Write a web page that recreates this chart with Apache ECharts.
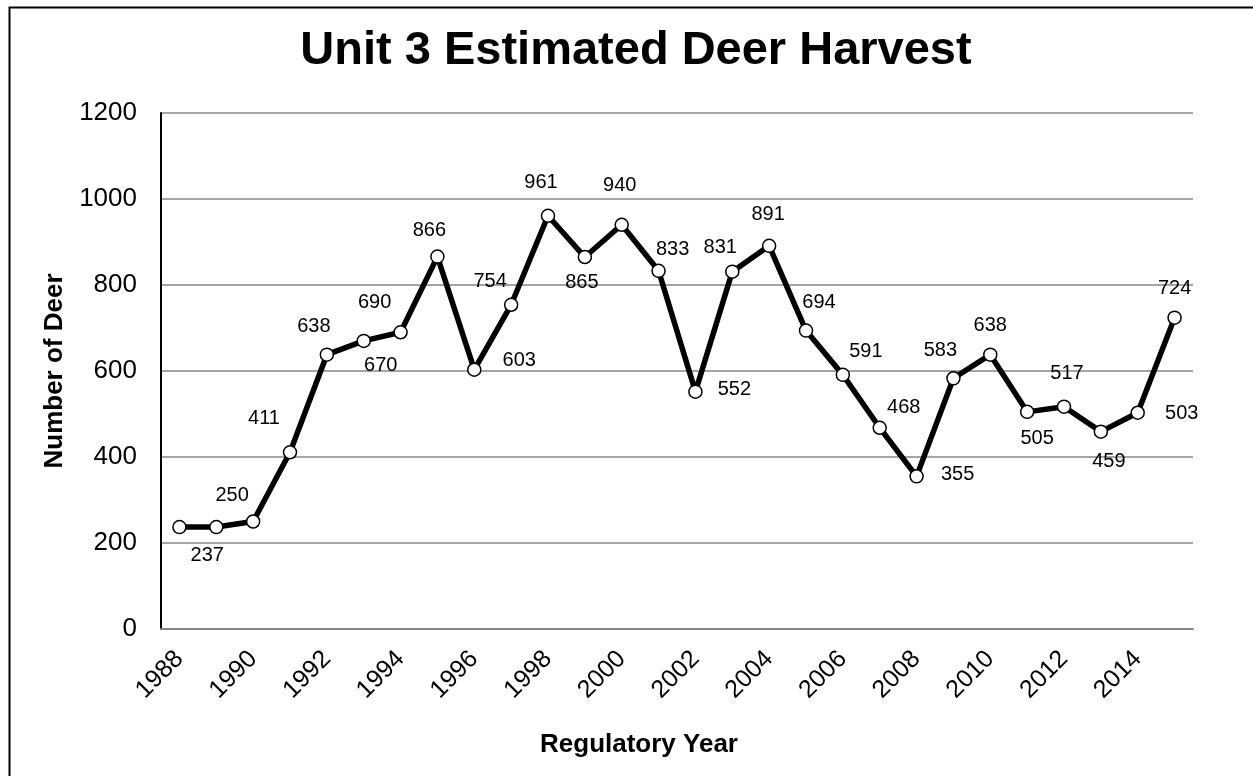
<!DOCTYPE html>
<html>
<head>
<meta charset="utf-8">
<script src="https://cdn.jsdelivr.net/npm/echarts@6/dist/echarts.min.js"></script>
<style>
html,body{margin:0;padding:0;background:#fff;}
#chart{width:1253px;height:776px;}
</style>
</head>
<body>
<div id="chart"></div>
<script>
var years = ['1988','1989','1990','1991','1992','1993','1994','1995','1996','1997','1998','1999','2000','2001','2002','2003','2004','2005','2006','2007','2008','2009','2010','2011','2012','2013','2014','2015'];
var harvest = [237,237,250,411,638,670,690,866,603,754,961,865,940,833,552,831,891,694,591,468,355,583,638,505,517,459,503,724];
var yTicks = [0,200,400,600,800,1000,1200];
// label placement styles (pixel offsets from each point), null = no label
var labelOffsets = [null,[-9,28],[-21,-26],[-26,-34],[-13,-28],[17,25],[-26,-30],[-8,-26],[45,-9],[-21,-23],[-7,-33],[-3,25],[-2,-39],[14,-21],[39,-2],[-12,-24],[-1,-31],[13,-28],[23,-23],[24,-20],[41,-2],[-13,-28],[0,-29],[10,27],[3,-33],[8,30],[44,1],[0,-29]];

var FONT = '"Liberation Sans", Arial, sans-serif';
var seriesData = harvest.map(function (v, i) {
  var off = labelOffsets[i];
  return {
    value: v,
    label: off ? { show: true, position: 'inside', offset: off } : { show: false }
  };
});

var chart = echarts.init(document.getElementById('chart'), null, {renderer: 'canvas'});
chart.setOption({
  animation: false,
  backgroundColor: '#ffffff',
  title: {
    text: 'Unit 3 Estimated Deer Harvest',
    left: 631, top: 23, textAlign: 'center',
    textStyle: { fontFamily: FONT, fontSize: 47, fontWeight: 'bold', color: '#000' }
  },
  graphic: [
    { type: 'rect', left: 7, top: 5, shape: { width: 1270, height: 800 },
      style: { fill: 'none', stroke: '#000', lineWidth: 2 }, silent: true },
    { type: 'text', x: 639, y: 745,
      style: { text: 'Regulatory Year', font: 'bold 26px ' + FONT, fill: '#000', align: 'center', verticalAlign: 'middle' } }
  ],
  grid: { left: 161, right: 60, top: 113, bottom: 147, containLabel: false },
  xAxis: {
    type: 'category',
    data: years,
    boundaryGap: true,
    axisLine: { show: true, lineStyle: { color: '#868686', width: 2 } },
    axisTick: { show: false },
    axisLabel: { interval: 1, rotate: 45, margin: 26, fontFamily: FONT, fontSize: 25, color: '#000' },
    splitLine: { show: false }
  },
  yAxis: {
    type: 'value',
    min: yTicks[0], max: yTicks[yTicks.length - 1], interval: 200,
    name: 'Number of Deer',
    nameLocation: 'middle',
    nameRotate: 90,
    nameGap: 78,
    nameTextStyle: { fontFamily: FONT, fontSize: 26, fontWeight: 'bold', color: '#000' },
    axisLine: { show: true, lineStyle: { color: '#000', width: 2 } },
    axisTick: { show: false },
    axisLabel: { margin: 24, fontFamily: FONT, fontSize: 26, color: '#000', formatter: function (v) { return String(v); } },
    splitLine: { show: true, lineStyle: { color: '#868686', width: 1.5 } }
  },
  series: [{
    type: 'line',
    data: seriesData,
    symbol: 'circle',
    symbolSize: 13,
    showAllSymbol: true,
    lineStyle: { color: '#000', width: 5.5 },
    itemStyle: { color: '#fff', borderColor: '#000', borderWidth: 1.5 },
    label: { fontFamily: FONT, fontSize: 20, color: '#000' },
    z: 3
  }]
});
</script>
</body>
</html>
